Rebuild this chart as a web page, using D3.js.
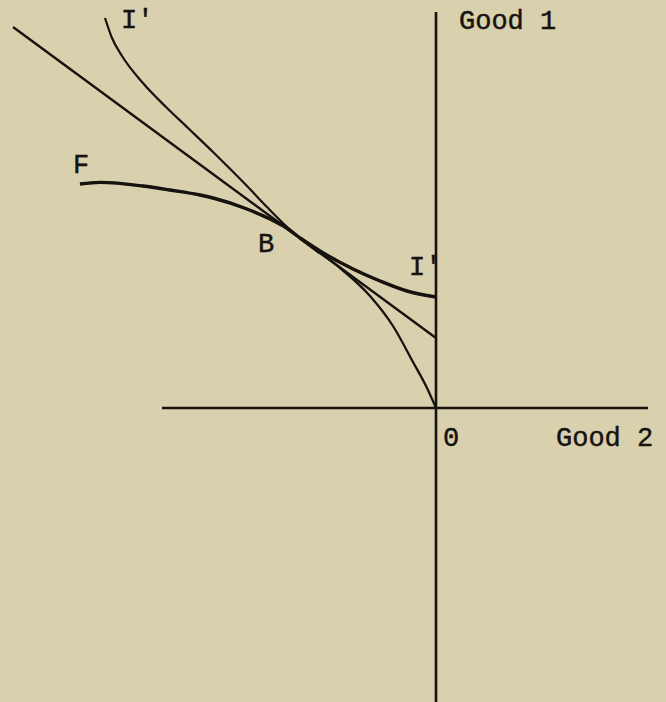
<!DOCTYPE html>
<html>
<head>
<meta charset="utf-8">
<script src="https://cdn.jsdelivr.net/npm/d3@7"></script>
<style>
  html, body { margin: 0; padding: 0; background: #d9d0ae; }
  svg { display: block; }
  text { font-family: "Liberation Mono", "DejaVu Sans Mono", monospace; fill: #16130f; stroke: #16130f; stroke-width: 0.45px; }
</style>
</head>
<body>
<svg id="chart" width="666" height="702"></svg>
<script>
// Budget line through B (Good 2, Good 1)
const budgetLine = [[-10.575, 9.525], [0, 1.75]];

// Indifference curve I'
const indifference = [
  [-8.275, 9.75], [-8.1, 9.25], [-7.85, 8.8], [-7.35, 8.15], [-6.75, 7.525],
  [-6.2, 7.0], [-5.575, 6.4], [-4.725, 5.55], [-4.225, 5.025], [-3.775, 4.575],
  [-3.4, 4.25], [-2.9, 3.925], [-2.075, 3.475], [-1.4, 3.175], [-0.725, 2.925],
  [0, 2.775]
];

// Frontier F, ending at the origin
const frontier = [
  [-8.9, 5.6], [-8.4, 5.64], [-7.325, 5.55], [-6.65, 5.45], [-5.9, 5.325],
  [-5.575, 5.25], [-4.725, 4.975], [-4.15, 4.725], [-3.775, 4.525], [-3.4, 4.25],
  [-2.9, 3.875], [-2.4, 3.5], [-1.65, 2.8], [-1.075, 2.05], [-0.575, 1.15],
  [-0.225, 0.5], [0, 0]
];

// Axis extents
const good2Extent = [-6.85, 5.3];
const good1Extent = [-7.35, 9.9];

// Labels: text and anchor in data units
const labels = [
  { text: "Good 1", at: [0.575, 9.475] },
  { text: "0",      at: [0.175, -0.95] },
  { text: "Good 2", at: [3.0, -0.95] },
  { text: "F",      at: [-9.075, 5.875] },
  { text: "B",      at: [-4.45, 3.9] },
  { text: "I'",     at: [-7.875, 9.5] },
  { text: "I'",     at: [-0.675, 3.325] }
];

const svg = d3.select("#chart");
const x = d3.scaleLinear().domain([-10.6, 5.3]).range([12, 648]);
const y = d3.scaleLinear().domain([-7.35, 9.9]).range([702, 12]);

const ink = "#16130f";
const straight = d3.line().x(d => x(d[0])).y(d => y(d[1]));
const smooth = d3.line().x(d => x(d[0])).y(d => y(d[1])).curve(d3.curveMonotoneX);

// axes
svg.append("line")
  .attr("x1", x(good2Extent[0])).attr("x2", x(good2Extent[1]))
  .attr("y1", y(0)).attr("y2", y(0))
  .attr("stroke", ink).attr("stroke-width", 2.6);
svg.append("line")
  .attr("x1", x(0)).attr("x2", x(0))
  .attr("y1", y(good1Extent[1])).attr("y2", y(good1Extent[0]))
  .attr("stroke", ink).attr("stroke-width", 2.6);

// budget line
svg.append("path").attr("d", straight(budgetLine))
  .attr("fill", "none").attr("stroke", ink).attr("stroke-width", 2.4);

// indifference curve: thin upper branch, heavier beyond B
svg.append("path").attr("d", smooth(indifference))
  .attr("fill", "none").attr("stroke", ink).attr("stroke-width", 2.2);
svg.append("path").attr("d", smooth(indifference.filter(d => d[0] >= -3.4)))
  .attr("fill", "none").attr("stroke", ink).attr("stroke-width", 3.4);

// frontier
svg.append("path").attr("d", smooth(frontier.filter(d => d[0] <= -2.9)))
  .attr("fill", "none").attr("stroke", ink).attr("stroke-width", 3.4);
svg.append("path").attr("d", smooth(frontier))
  .attr("fill", "none").attr("stroke", ink).attr("stroke-width", 2.3);

// labels
svg.selectAll("text.lbl").data(labels).enter().append("text")
  .attr("class", "lbl")
  .attr("x", d => x(d.at[0]))
  .attr("y", d => y(d.at[1]))
  .attr("font-size", 27)
  .text(d => d.text);
</script>
</body>
</html>
